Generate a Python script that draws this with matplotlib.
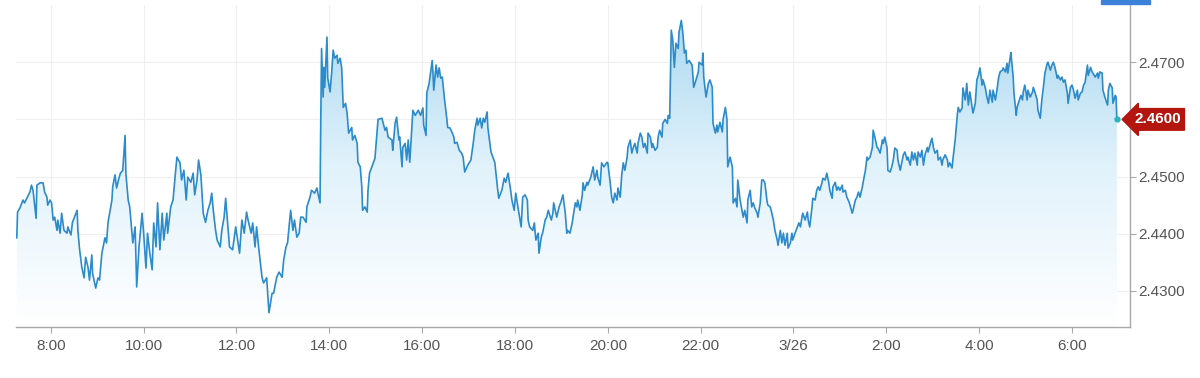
import numpy as np
import matplotlib.pyplot as plt
import matplotlib.transforms as mtransforms
from matplotlib.colors import LinearSegmentedColormap
from matplotlib.patches import Rectangle

plt.rcParams['font.family'] = ['Liberation Sans', 'DejaVu Sans']

# time in minutes after 07:00 (3/25), price quotes
minutes = [
    16, 17, 20, 24, 26, 29, 33, 35, 37, 41,
    42, 46, 50, 52, 55, 56, 59, 61, 63, 65,
    68, 69, 72, 74, 77, 81, 82, 86, 88, 94,
    95, 97, 100, 103, 105, 108, 110, 113, 114, 118,
    121, 123, 126, 130, 132, 134, 136, 139, 140, 143,
    145, 148, 150, 153, 156, 157, 160, 162, 165, 166,
    169, 171, 174, 178, 180, 183, 185, 188, 191, 193,
    196, 198, 201, 204, 206, 210, 211, 215, 218, 220,
    223, 227, 229, 232, 235, 237, 241, 244, 246, 249,
    251, 254, 257, 260, 263, 266, 268, 270, 273, 275,
    279, 281, 284, 286, 289, 291, 295, 299, 302, 304,
    307, 310, 313, 315, 319, 321, 324, 326, 329, 333,
    335, 339, 342, 346, 348, 352, 355, 359, 361, 364,
    366, 370, 373, 375, 378, 381, 383, 386, 390, 391,
    395, 397, 401, 404, 405, 408, 409, 410, 412, 413,
    414, 417, 418, 421, 423, 425, 427, 430, 431, 434,
    436, 438, 441, 443, 445, 449, 450, 453, 456, 457,
    460, 462, 463, 466, 469, 470, 472, 475, 479, 483,
    488, 492, 494, 496, 501, 502, 505, 507, 510, 511,
    514, 515, 518, 520, 522, 524, 528, 531, 535, 538,
    541, 542, 545, 546, 549, 553, 554, 555, 558, 560,
    562, 564, 566, 569, 572, 573, 576, 579, 581, 582,
    585, 588, 591, 593, 595, 598, 599, 603, 606, 608,
    611, 612, 615, 617, 619, 621, 624, 625, 629, 632,
    634, 637, 639, 643, 646, 648, 651, 654, 656, 659,
    661, 664, 668, 670, 673, 676, 677, 679, 683, 685,
    687, 690, 691, 694, 696, 699, 701, 703, 707, 709,
    710, 714, 717, 719, 722, 725, 727, 728, 731, 734,
    735, 738, 740, 741, 744, 747, 748, 750, 753, 754,
    758, 761, 763, 766, 767, 770, 772, 775, 779, 780,
    783, 785, 787, 789, 792, 793, 796, 798, 800, 802,
    805, 806, 809, 811, 813, 815, 818, 819, 822, 824,
    826, 828, 831, 832, 835, 837, 838, 841, 844, 845,
    847, 850, 851, 854, 857, 858, 860, 862, 864, 866,
    868, 871, 872, 875, 877, 879, 881, 882, 885, 889,
    891, 894, 897, 898, 902, 903, 904, 907, 910, 912,
    915, 916, 919, 921, 922, 925, 928, 929, 932, 934,
    935, 938, 941, 942, 945, 947, 948, 951, 954, 955,
    957, 960, 961, 964, 966, 968, 970, 973, 974, 977,
    979, 981, 983, 986, 987, 990, 992, 994, 996, 999,
    1000, 1003, 1005, 1007, 1009, 1012, 1013, 1016, 1018, 1019,
    1022, 1025, 1027, 1029, 1031, 1032, 1035, 1038, 1039, 1041,
    1044, 1045, 1048, 1050, 1052, 1054, 1057, 1058, 1061, 1063,
    1065, 1067, 1070, 1071, 1074, 1076, 1078, 1080, 1083, 1084,
    1087, 1089, 1092, 1096, 1097, 1100, 1102, 1104, 1106, 1109,
    1110, 1113, 1115, 1116, 1119, 1122, 1123, 1126, 1128, 1129,
    1132, 1135, 1136, 1138, 1141, 1142, 1145, 1147, 1149, 1151,
    1154, 1155, 1158, 1160, 1162, 1164, 1167, 1168, 1171, 1173,
    1175, 1177, 1180, 1181, 1184, 1186, 1188, 1190, 1193, 1194,
    1197, 1199, 1201, 1203, 1206, 1207, 1210, 1212, 1213, 1216,
    1219, 1220, 1222, 1225, 1226, 1229, 1232, 1233, 1235, 1238,
    1239, 1242, 1244, 1246, 1248, 1251, 1252, 1255, 1257, 1259,
    1261, 1264, 1265, 1268, 1270, 1272, 1274, 1277, 1278, 1281,
    1283, 1285, 1287, 1290, 1291, 1294, 1296, 1297, 1300, 1301,
    1304, 1305, 1308, 1309, 1312, 1314, 1316, 1317, 1319, 1322,
    1323, 1326, 1329, 1330, 1332, 1335, 1336, 1339, 1341, 1343,
    1345, 1348, 1349, 1352, 1354, 1356, 1358, 1361, 1362, 1365,
    1367, 1369, 1371, 1374, 1375, 1378, 1380, 1382, 1384, 1387,
    1388, 1391, 1393, 1395, 1397, 1400, 1401, 1404, 1406, 1407,
    1410, 1413, 1414, 1416, 1419, 1420, 1423, 1426, 1427, 1429,
    1432, 1433, 1436, 1437, 1438,
]

prices = [
    2.4393, 2.4438, 2.4445, 2.4459, 2.4454, 2.4462, 2.4473, 2.4485, 2.4476, 2.4427,
    2.4485, 2.4489, 2.4489, 2.4473, 2.4464, 2.4450, 2.4459, 2.4454, 2.4424, 2.4429,
    2.4406, 2.4424, 2.4401, 2.4436, 2.4406, 2.4401, 2.4412, 2.4398, 2.4420, 2.4441,
    2.4406, 2.4375, 2.4342, 2.4323, 2.4359, 2.4342, 2.4319, 2.4363, 2.4331, 2.4305,
    2.4323, 2.4319, 2.4366, 2.4393, 2.4384, 2.4420, 2.4436, 2.4459, 2.4482, 2.4503,
    2.4480, 2.4497, 2.4506, 2.4511, 2.4572, 2.4506, 2.4459, 2.4447, 2.4401, 2.4384,
    2.4412, 2.4307, 2.4377, 2.4436, 2.4401, 2.4340, 2.4401, 2.4366, 2.4337, 2.4419,
    2.4377, 2.4454, 2.4372, 2.4436, 2.4389, 2.4436, 2.4401, 2.4447, 2.4459, 2.4490,
    2.4534, 2.4524, 2.4494, 2.4511, 2.4459, 2.4499, 2.4490, 2.4506, 2.4468, 2.4494,
    2.4529, 2.4503, 2.4436, 2.4420, 2.4441, 2.4454, 2.4471, 2.4441, 2.4406, 2.4389,
    2.4377, 2.4406, 2.4429, 2.4462, 2.4412, 2.4377, 2.4372, 2.4412, 2.4384, 2.4366,
    2.4424, 2.4401, 2.4438, 2.4424, 2.4401, 2.4419, 2.4377, 2.4412, 2.4372, 2.4324,
    2.4314, 2.4323, 2.4262, 2.4296, 2.4296, 2.4324, 2.4333, 2.4324, 2.4354, 2.4377,
    2.4384, 2.4441, 2.4406, 2.4424, 2.4394, 2.4401, 2.4429, 2.4429, 2.4420, 2.4447,
    2.4464, 2.4476, 2.4471, 2.4480, 2.4473, 2.4454, 2.4604, 2.4724, 2.4639, 2.4691,
    2.4656, 2.4744, 2.4672, 2.4648, 2.4681, 2.4721, 2.4707, 2.4712, 2.4698, 2.4707,
    2.4690, 2.4621, 2.4628, 2.4611, 2.4576, 2.4586, 2.4564, 2.4572, 2.4558, 2.4525,
    2.4517, 2.4482, 2.4441, 2.4447, 2.4438, 2.4476, 2.4506, 2.4517, 2.4532, 2.4600,
    2.4602, 2.4581, 2.4586, 2.4569, 2.4564, 2.4546, 2.4593, 2.4604, 2.4564, 2.4569,
    2.4517, 2.4551, 2.4558, 2.4529, 2.4564, 2.4525, 2.4616, 2.4607, 2.4616, 2.4607,
    2.4620, 2.4590, 2.4572, 2.4646, 2.4663, 2.4703, 2.4681, 2.4651, 2.4695, 2.4674,
    2.4690, 2.4672, 2.4674, 2.4634, 2.4600, 2.4586, 2.4585, 2.4576, 2.4569, 2.4558,
    2.4560, 2.4546, 2.4541, 2.4534, 2.4508, 2.4517, 2.4520, 2.4529, 2.4558, 2.4581,
    2.4602, 2.4590, 2.4602, 2.4585, 2.4602, 2.4595, 2.4613, 2.4585, 2.4543, 2.4532,
    2.4524, 2.4485, 2.4462, 2.4476, 2.4497, 2.4490, 2.4506, 2.4480, 2.4459, 2.4441,
    2.4471, 2.4445, 2.4412, 2.4464, 2.4468, 2.4459, 2.4424, 2.4412, 2.4406, 2.4419,
    2.4389, 2.4401, 2.4366, 2.4394, 2.4403, 2.4424, 2.4429, 2.4441, 2.4424, 2.4436,
    2.4454, 2.4429, 2.4447, 2.4454, 2.4468, 2.4436, 2.4401, 2.4406, 2.4401, 2.4419,
    2.4429, 2.4454, 2.4447, 2.4459, 2.4441, 2.4468, 2.4489, 2.4476, 2.4490, 2.4485,
    2.4499, 2.4517, 2.4494, 2.4511, 2.4499, 2.4485, 2.4524, 2.4517, 2.4525, 2.4524,
    2.4490, 2.4464, 2.4454, 2.4471, 2.4459, 2.4480, 2.4464, 2.4503, 2.4524, 2.4511,
    2.4534, 2.4551, 2.4564, 2.4541, 2.4551, 2.4558, 2.4541, 2.4558, 2.4576, 2.4569,
    2.4551, 2.4558, 2.4541, 2.4576, 2.4569, 2.4551, 2.4558, 2.4546, 2.4551, 2.4569,
    2.4581, 2.4569, 2.4593, 2.4600, 2.4593, 2.4607, 2.4602, 2.4756, 2.4738, 2.4691,
    2.4733, 2.4724, 2.4752, 2.4773, 2.4751, 2.4716, 2.4721, 2.4698, 2.4703, 2.4695,
    2.4656, 2.4669, 2.4683, 2.4700, 2.4695, 2.4716, 2.4674, 2.4639, 2.4663, 2.4669,
    2.4656, 2.4593, 2.4576, 2.4590, 2.4578, 2.4595, 2.4578, 2.4600, 2.4621, 2.4600,
    2.4517, 2.4534, 2.4517, 2.4454, 2.4462, 2.4447, 2.4494, 2.4459, 2.4436, 2.4429,
    2.4441, 2.4419, 2.4459, 2.4476, 2.4447, 2.4454, 2.4445, 2.4436, 2.4429, 2.4454,
    2.4494, 2.4494, 2.4489, 2.4455, 2.4450, 2.4447, 2.4436, 2.4424, 2.4406, 2.4389,
    2.4380, 2.4406, 2.4384, 2.4401, 2.4380, 2.4401, 2.4375, 2.4384, 2.4401, 2.4389,
    2.4401, 2.4412, 2.4419, 2.4412, 2.4429, 2.4436, 2.4424, 2.4438, 2.4424, 2.4412,
    2.4447, 2.4462, 2.4459, 2.4476, 2.4482, 2.4476, 2.4490, 2.4497, 2.4494, 2.4506,
    2.4494, 2.4476, 2.4462, 2.4482, 2.4490, 2.4476, 2.4482, 2.4476, 2.4485, 2.4473,
    2.4476, 2.4464, 2.4455, 2.4436, 2.4441, 2.4459, 2.4464, 2.4473, 2.4464, 2.4482,
    2.4490, 2.4511, 2.4534, 2.4529, 2.4534, 2.4551, 2.4581, 2.4564, 2.4551, 2.4550,
    2.4541, 2.4564, 2.4558, 2.4569, 2.4550, 2.4511, 2.4508, 2.4517, 2.4529, 2.4550,
    2.4546, 2.4529, 2.4511, 2.4525, 2.4538, 2.4543, 2.4529, 2.4534, 2.4520, 2.4543,
    2.4529, 2.4541, 2.4520, 2.4543, 2.4534, 2.4546, 2.4520, 2.4538, 2.4551, 2.4543,
    2.4558, 2.4567, 2.4550, 2.4541, 2.4546, 2.4529, 2.4534, 2.4520, 2.4529, 2.4538,
    2.4529, 2.4517, 2.4524, 2.4515, 2.4529, 2.4564, 2.4611, 2.4621, 2.4613, 2.4620,
    2.4655, 2.4634, 2.4663, 2.4625, 2.4648, 2.4620, 2.4611, 2.4628, 2.4669, 2.4677,
    2.4690, 2.4660, 2.4669, 2.4655, 2.4639, 2.4628, 2.4651, 2.4630, 2.4651, 2.4634,
    2.4651, 2.4672, 2.4683, 2.4686, 2.4690, 2.4683, 2.4698, 2.4681, 2.4707, 2.4717,
    2.4674, 2.4646, 2.4607, 2.4621, 2.4634, 2.4642, 2.4634, 2.4648, 2.4660, 2.4634,
    2.4651, 2.4639, 2.4648, 2.4656, 2.4648, 2.4634, 2.4616, 2.4602, 2.4634, 2.4656,
    2.4681, 2.4698, 2.4700, 2.4686, 2.4695, 2.4700, 2.4691, 2.4672, 2.4677, 2.4669,
    2.4674, 2.4665, 2.4669, 2.4646, 2.4628, 2.4656, 2.4660, 2.4651, 2.4637, 2.4651,
    2.4634, 2.4646, 2.4648, 2.4660, 2.4665, 2.4695, 2.4677, 2.4691, 2.4683, 2.4681,
    2.4674, 2.4681, 2.4672, 2.4683, 2.4681, 2.4651, 2.4637, 2.4625, 2.4651, 2.4663,
    2.4655, 2.4628, 2.4642, 2.4639, 2.4600,
]

tick_minutes = [60, 180, 300, 420, 540, 660, 780, 900, 1020, 1140, 1260, 1380]
tick_labels = ['8:00', '10:00', '12:00', '14:00', '16:00', '18:00',
               '20:00', '22:00', '3/26', '2:00', '4:00', '6:00']
price_ticks = [2.43, 2.44, 2.45, 2.46, 2.47]

x = np.array(minutes)
y = np.array(prices)
assert len(x) == len(y)
last_price = y[-1]

xmin, xmax = 15, 1455
ymin, ymax = 2.4237, 2.4800

fig = plt.figure(figsize=(12, 3.78), dpi=100)
ax = fig.add_axes([16 / 1200, 1 - 327 / 378, (1130 - 16) / 1200, (327 - 5) / 378])

# gradient fill under the line
poly = ax.fill_between(x, y, ymin, color='none', lw=0)
cmap = LinearSegmentedColormap.from_list('fade', ['#ffffff', '#e1f2fb', '#a6d6f0'])
grad = np.linspace(0, 1, 256).reshape(-1, 1)
im = ax.imshow(grad, extent=[xmin, xmax, ymin, ymax], origin='lower',
               aspect='auto', cmap=cmap, zorder=1)
im.set_clip_path(poly.get_paths()[0], ax.transData)

ax.plot(x, y, color='#2b8bcb', lw=1.2, zorder=3)
ax.plot(x[-1], last_price, 'o', ms=3.5, color='#27b3c4', zorder=4)

ax.set_xlim(xmin, xmax)
ax.set_ylim(ymin, ymax)
ax.set_xticks(tick_minutes)
ax.set_xticklabels(tick_labels)
ax.yaxis.tick_right()
ax.set_yticks(price_ticks)
# the last-price badge sits on top of its own tick label
ax.set_yticklabels(['' if abs(v - last_price) < 1e-9 else '%.4f' % v for v in price_ticks])

ax.grid(True, color='#efefef', lw=0.8, zorder=0)
ax.set_axisbelow(True)
for side in ['left', 'top']:
    ax.spines[side].set_visible(False)
for side in ['bottom', 'right']:
    ax.spines[side].set_color('#a8a8a8')
    ax.spines[side].set_linewidth(1.0)

ax.tick_params(axis='x', direction='out', length=4, width=0.8, color='#a8a8a8',
               labelcolor='#555555', labelsize=11, pad=5)
ax.tick_params(axis='y', direction='out', length=4, width=0.8, color='#a8a8a8',
               labelcolor='#555555', labelsize=11, pad=2)

# last price badge
trans = mtransforms.blended_transform_factory(ax.transAxes, ax.transData)
ax.text(1.0036, last_price, '%.4f' % last_price, transform=trans, ha='left', va='center',
        color='white', fontsize=11, fontweight='bold', zorder=10, clip_on=False,
        bbox=dict(boxstyle='larrow,pad=0.25', fc='#b3150f', ec='#b3150f'))

fig.patches.append(Rectangle((1101 / 1200, 1 - 4 / 378), 49 / 1200, 4 / 378,
                             transform=fig.transFigure, color='#3d80d8'))

fig.savefig('out.png', dpi=100, facecolor='white')
